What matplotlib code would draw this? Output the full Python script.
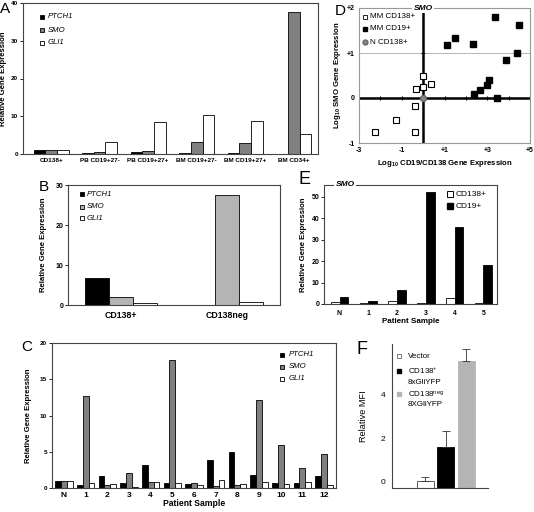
import matplotlib
matplotlib.use('Agg')
import matplotlib.pyplot as plt
from matplotlib.lines import Line2D
from matplotlib.transforms import ScaledTranslation
import numpy as np

plt.rcParams['font.family'] = ['Liberation Sans', 'DejaVu Sans']
plt.rcParams['mathtext.default'] = 'regular'

# ---------------- data ----------------
A_cats = ["CD138+", "PB CD19+27-", "PB CD19+27+", "BM CD19+27-", "BM CD19+27+", "BM CD34+"]
A_ptch1 = [1.0, 0.2, 0.6, 0.3, 0.3, 0.1]
A_smo = [1.0, 0.5, 0.8, 3.1, 3.0, 37.6]
A_gli1 = [1.0, 3.3, 8.6, 10.4, 8.7, 5.3]

B_cats = ["CD138+", "CD138neg"]
B_ptch1 = [6.8, 0.1]
B_smo = [2.0, 27.6]
B_gli1 = [0.6, 0.8]

C_cats = ["N", "1", "2", "3", "4", "5", "6", "7", "8", "9", "10", "11", "12"]
C_ptch1 = [1.0, 0.35, 1.6, 0.75, 3.2, 0.75, 0.55, 3.9, 4.9, 1.8, 0.7, 0.7, 1.6]
C_smo = [1.0, 12.7, 0.4, 2.1, 0.8, 17.6, 0.65, 0.3, 0.4, 12.2, 6.0, 2.8, 4.7]
C_gli1 = [1.0, 0.65, 0.5, 0.2, 0.8, 0.65, 0.4, 1.05, 0.55, 0.8, 0.6, 0.8, 0.45]

D_cd138_x = [-2.23, -1.25, -0.39, -0.36, -0.34, -0.02, -0.02, 0.38]
D_cd138_y = [-0.76, -0.48, -0.75, -0.18, 0.21, 0.48, 0.25, 0.32]
D_cd19_x = [1.11, 1.48, 2.34, 3.36, 4.48, 4.38, 3.86, 3.08, 2.98, 2.66, 2.38, 3.44]
D_cd19_y = [1.18, 1.33, 1.21, 1.80, 1.63, 0.99, 0.85, 0.39, 0.28, 0.18, 0.10, 0.01]
D_n_x = [0.0]
D_n_y = [0.0]

E_cats = ["N", "1", "2", "3", "4", "5"]
E_cd138 = [1.1, 0.6, 1.6, 0.3, 3.0, 0.3]
E_cd19 = [3.1, 1.5, 6.7, 52.3, 36.1, 18.2]

F_labels = ["Vector", "CD138+ 8xGliYFP", "CD138neg 8XGliYFP"]
F_vals = [0.32, 1.88, 5.84]
F_err = [0.18, 0.74, 0.55]

# ---------------- figure ----------------
W, H = 534, 512
fig = plt.figure(figsize=(W / 100, H / 100), dpi=100)


def add_ax(l, t, r, b):
    return fig.add_axes([l / W, 1 - b / H, (r - l) / W, (b - t) / H])


def ftext(x, y, s, **kw):
    return fig.text(x / W, 1 - y / H, s, **kw)


def fmark(x, y, **kw):
    fig.add_artist(Line2D([x / W], [1 - y / H], transform=fig.transFigure, linestyle='none', **kw))


def style_box(ax, color='#444444', lw=0.8):
    for s in ax.spines.values():
        s.set_color(color)
        s.set_linewidth(lw)


def bold_ticks(ax, size):
    for l in ax.get_xticklabels() + ax.get_yticklabels():
        l.set_fontweight('bold')
        l.set_fontsize(size)


GRAY_D = '#808080'
GRAY_L = '#b4b4b4'

# ---------------- Panel A ----------------
axA = add_ax(23, 3, 318, 154)
x = np.arange(len(A_cats))
w = 0.24
axA.bar(x - w, A_ptch1, w, color='black', edgecolor='black', lw=0.6)
axA.bar(x, A_smo, w, color=GRAY_D, edgecolor='black', lw=0.6)
axA.bar(x + w, A_gli1, w, color='white', edgecolor='black', lw=0.6)
axA.set_xlim(-0.58, 5.5)
axA.set_ylim(0, 40)
axA.set_yticks([0, 10, 20, 30, 40])
axA.set_xticks(x)
axA.set_xticklabels(A_cats)
axA.tick_params(axis='x', length=0, pad=3)
axA.tick_params(axis='y', length=2, pad=1.5, width=0.6)
bold_ticks(axA, 4.6)
style_box(axA)
axA.set_ylabel('Relative Gene Expression', fontsize=5.6, fontweight='bold', labelpad=3)
for yy, lab, col in [(17, 'PTCH1', 'black'), (30, 'SMO', GRAY_D), (43, 'GLI1', 'white')]:
    fmark(42, yy, marker='s', markersize=3.5, markerfacecolor=col, markeredgecolor='black', markeredgewidth=0.6)
    ftext(48, yy, lab, fontsize=5.6, style='italic', va='center')
ftext(5, 9, 'A', fontsize=11, ha='center', va='center')

# ---------------- Panel B ----------------
axB = add_ax(68, 185, 280, 305)
x = np.arange(len(B_cats))
w = 0.226
axB.bar(x - w, B_ptch1, w, color='black', edgecolor='black', lw=0.6)
axB.bar(x, B_smo, w, color=GRAY_L, edgecolor='black', lw=0.6)
axB.bar(x + w, B_gli1, w, color='white', edgecolor='black', lw=0.6)
axB.set_xlim(-0.5, 1.5)
axB.set_ylim(0, 30)
axB.set_yticks([0, 10, 20, 30])
axB.set_xticks(x)
axB.set_xticklabels(B_cats)
axB.tick_params(axis='x', length=0, pad=4)
axB.tick_params(axis='y', length=2, pad=1.5, width=0.6)
bold_ticks(axB, 5)
for l in axB.get_xticklabels():
    l.set_fontsize(6.3)
style_box(axB)
axB.set_ylabel('Relative Gene Expression', fontsize=5.6, fontweight='bold', labelpad=6)
for yy, lab, col in [(194, 'PTCH1', 'black'), (207, 'SMO', GRAY_L), (218, 'GLI1', 'white')]:
    fmark(82, yy, marker='s', markersize=3.5, markerfacecolor=col, markeredgecolor='black', markeredgewidth=0.6)
    ftext(87, yy, lab, fontsize=5.6, style='italic', va='center')
ftext(44, 187, 'B', fontsize=11, ha='center', va='center')

# ---------------- Panel C ----------------
axC = add_ax(52, 343, 336, 488)
x = np.arange(len(C_cats))
w = 0.27
axC.bar(x - w, C_ptch1, w, color='black', edgecolor='black', lw=0.6)
axC.bar(x, C_smo, w, color=GRAY_D, edgecolor='black', lw=0.6)
axC.bar(x + w, C_gli1, w, color='white', edgecolor='black', lw=0.6)
axC.set_xlim(-0.55, 12.55)
axC.set_ylim(0, 20)
axC.set_yticks([0, 5, 10, 15, 20])
axC.set_xticks(x)
axC.set_xticklabels(C_cats)
axC.tick_params(axis='x', length=0, pad=3)
axC.tick_params(axis='y', length=2, pad=1.5, width=0.6)
bold_ticks(axC, 4.6)
for l in axC.get_xticklabels():
    l.set_fontsize(6)
style_box(axC)
axC.set_ylabel('Relative Gene Expression', fontsize=5.6, fontweight='bold', labelpad=6)
axC.set_xlabel('Patient Sample', fontsize=6.2, fontweight='bold', labelpad=0)
for yy, lab, col in [(355, 'PTCH1', 'black'), (367, 'SMO', GRAY_D), (379, 'GLI1', 'white')]:
    fmark(282, yy, marker='s', markersize=3.5, markerfacecolor=col, markeredgecolor='black', markeredgewidth=0.6)
    ftext(289, yy, lab, fontsize=5.6, style='italic', va='center')
ftext(27, 347, 'C', fontsize=11, ha='center', va='center')

# ---------------- Panel D ----------------
axD = add_ax(359, 8, 530, 143)
axD.set_xlim(-3, 5)
axD.set_ylim(-1, 2)
axD.axhline(1, color='#aaaaaa', lw=0.6, zorder=1)
axD.axhline(0, color='black', lw=1.8, zorder=2)
axD.axvline(0, color='black', lw=1.8, zorder=2)
tx = [-2, -1, 1, 2, 3, 4]
axD.plot(tx, [0] * len(tx), linestyle='none', marker='|', markersize=3, color='black', mew=0.8, zorder=2)
axD.plot([0], [1], linestyle='none', marker='_', markersize=3, color='black', mew=0.8, zorder=2)
axD.plot(D_cd138_x, D_cd138_y, linestyle='none', marker='s', markersize=4.3,
         markerfacecolor='white', markeredgecolor='black', markeredgewidth=0.8, zorder=3)
axD.plot(D_cd19_x, D_cd19_y, linestyle='none', marker='s', markersize=4.3,
         markerfacecolor='black', markeredgecolor='black', zorder=3)
axD.plot(D_n_x, D_n_y, linestyle='none', marker='o', markersize=4.3,
         markerfacecolor='#888888', markeredgecolor='#666666', zorder=4)
axD.set_xticks([-3, -1, 1, 3, 5])
axD.set_xticklabels(['-3', '-1', '+1', '+3', '+5'])
axD.set_yticks([-1, 0, 1, 2])
axD.set_yticklabels(['-1', '0', '+1', '+2'])
axD.tick_params(length=0, pad=3)
bold_ticks(axD, 5)
style_box(axD, color='#999999', lw=0.8)
axD.set_ylabel('Log$_{10}$ SMO Gene Expression', fontsize=5.6, fontweight='bold', labelpad=3)
axD.set_xlabel('Log$_{10}$ CD19/CD138 Gene Expression', fontsize=5.6, fontweight='bold', labelpad=3)
axD.text(0, 2, 'SMO', ha='center', va='center', fontsize=6, fontweight='bold', style='italic',
         bbox=dict(fc='white', ec='none', pad=1), zorder=5, clip_on=False)
fmark(365, 17, marker='s', markersize=3.5, markerfacecolor='white', markeredgecolor='black', markeredgewidth=0.6)
ftext(370, 17, 'MM CD138+', fontsize=5.8, va='center')
fmark(365, 29, marker='s', markersize=3.5, markerfacecolor='black', markeredgecolor='black')
ftext(370, 29, 'MM CD19+', fontsize=5.8, va='center')
fmark(365, 42, marker='o', markersize=3.5, markerfacecolor='#888888', markeredgecolor='#666666')
ftext(370, 42, 'N CD138+', fontsize=5.8, va='center')
ftext(340, 11, 'D', fontsize=11, ha='center', va='center')

# ---------------- Panel E ----------------
axE = add_ax(324, 185, 497, 304)
x = np.arange(len(E_cats))
w = 0.3
axE.bar(x - w / 2, E_cd138, w, color='white', edgecolor='black', lw=0.6)
axE.bar(x + w / 2, E_cd19, w, color='black', edgecolor='black', lw=0.6)
axE.set_xlim(-0.54, 5.47)
axE.set_ylim(0, 55.5)
axE.set_yticks([0, 10, 20, 30, 40, 50])
axE.set_xticks(x)
axE.set_xticklabels(E_cats)
axE.tick_params(axis='x', length=0, pad=4)
axE.tick_params(axis='y', length=2, pad=1.5, width=0.6)
bold_ticks(axE, 5)
style_box(axE)
axE.set_ylabel('Relative Gene Expression', fontsize=5.6, fontweight='bold', labelpad=3)
axE.set_xlabel('Patient Sample', fontsize=5.8, fontweight='bold', labelpad=1)
ftext(345, 185, 'SMO', fontsize=6, fontweight='bold', style='italic', ha='center', va='center',
      bbox=dict(fc='white', ec='none', pad=1))
fmark(450, 194, marker='s', markersize=3.8, markerfacecolor='white', markeredgecolor='black', markeredgewidth=0.7)
ftext(456, 194, 'CD138+', fontsize=6, va='center')
fmark(450, 206, marker='s', markersize=3.8, markerfacecolor='black', markeredgecolor='black')
ftext(456, 206, 'CD19+', fontsize=6, va='center')
ftext(304, 180, 'E', fontsize=13, ha='center', va='center')

# ---------------- Panel F ----------------
axF = add_ax(392, 344, 488, 488)
x = np.arange(len(F_vals))
fcols = ['white', 'black', GRAY_L]
ecols = ['#444444', 'black', GRAY_L]
axF.bar(x, F_vals, 0.83, color=fcols, edgecolor=ecols, lw=0.6,
        yerr=[np.zeros(len(F_err)), F_err], capsize=3,
        error_kw=dict(ecolor='#333333', elinewidth=0.6, capthick=0.6))
axF.set_xlim(-1.63, 3.05)
axF.set_ylim(0, 6.6)
axF.set_yticks([0, 2, 4])
axF.set_xticks([])
axF.tick_params(axis='y', length=0, pad=5, labelsize=6)
for l in axF.get_yticklabels():
    l.set_transform(l.get_transform() + ScaledTranslation(0, 6 / 100, fig.dpi_scale_trans))
for s in ['top', 'right']:
    axF.spines[s].set_visible(False)
for s in ['left', 'bottom']:
    axF.spines[s].set_color('#444444')
    axF.spines[s].set_linewidth(0.8)
axF.set_ylabel('Relative MFI', fontsize=6.6, labelpad=9)
fmark(399, 356, marker='s', markersize=3.5, markerfacecolor='white', markeredgecolor='#444444', markeredgewidth=0.5)
ftext(408, 356, 'Vector', fontsize=5.8, va='center')
fmark(399, 371, marker='s', markersize=3.5, markerfacecolor='black', markeredgecolor='black')
ftext(408, 371, 'CD138$^{+}$', fontsize=5.8, va='center')
ftext(408, 382, '8xGliYFP', fontsize=5.8, va='center')
fmark(399, 394, marker='s', markersize=3.5, markerfacecolor=GRAY_L, markeredgecolor=GRAY_L)
ftext(408, 394, 'CD138$^{neg}$', fontsize=5.8, va='center')
ftext(408, 404, '8XGliYFP', fontsize=5.8, va='center')
ftext(362, 350, 'F', fontsize=13, ha='center', va='center')

fig.savefig('out.png', dpi=100)
